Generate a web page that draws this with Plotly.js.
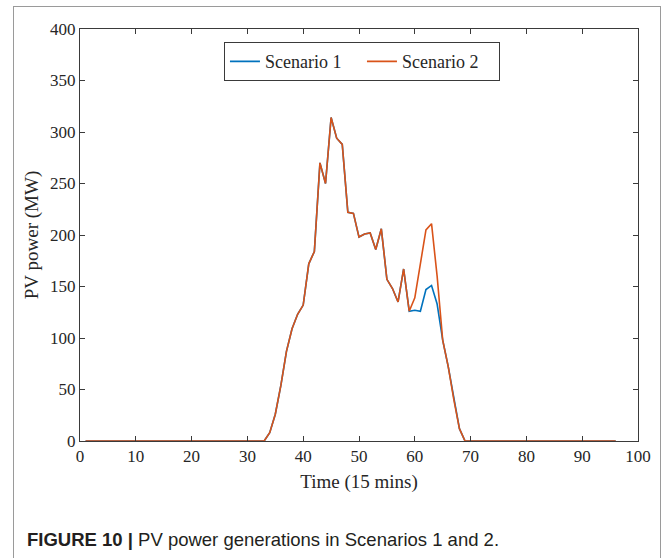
<!DOCTYPE html>
<html>
<head>
<meta charset="utf-8">
<script src="https://cdn.plot.ly/plotly-3.0.1.min.js"></script>
<style>
html,body{margin:0;padding:0;background:#fff;}
#frame{position:absolute;left:13px;top:6px;width:648px;height:560px;border:1px solid #9a9a9a;border-bottom:none;box-sizing:border-box;}
#chart{position:absolute;left:0;top:0;width:665px;height:558px;}
</style>
</head>
<body>
<div id="frame"></div>
<div id="chart"></div>
<script>
// Time steps (15 min)
const timeSteps = Array.from({length: 96}, (_, i) => i + 1);

// Scenario 2 PV power (MW), t = 1..96
const scenario2 = [
  0,0,0,0,0,0,0,0,0,0,
  0,0,0,0,0,0,0,0,0,0,
  0,0,0,0,0,0,0,0,0,0,
  0,0,0,8,26,54,87,109,123,132,
  172,184,270,250,314,294,288,222,221,198,
  201,202,186,206,157,148,135,167,126,139,
  172,205,211,160,98,72,40,12,0,0,
  0,0,0,0,0,0,0,0,0,0,
  0,0,0,0,0,0,0,0,0,0,
  0,0,0,0,0,0
];

// Scenario 1 PV power (MW), t = 1..96
const scenario1 = [
  0,0,0,0,0,0,0,0,0,0,
  0,0,0,0,0,0,0,0,0,0,
  0,0,0,0,0,0,0,0,0,0,
  0,0,0,8,26,54,87,109,123,132,
  172,184,270,250,314,294,288,222,221,198,
  201,202,186,206,157,148,135,167,126,127,
  126,147,151,133,98,72,40,12,0,0,
  0,0,0,0,0,0,0,0,0,0,
  0,0,0,0,0,0,0,0,0,0,
  0,0,0,0,0,0
];

const seriesNames = ['Scenario 1', 'Scenario 2'];
const xTicks = [0,10,20,30,40,50,60,70,80,90,100];
const yTicks = [0,50,100,150,200,250,300,350,400];

const serif = 'Liberation Serif, Times New Roman, serif';
const axisColor = '#3a3a3a';

const traces = [
  {x: timeSteps, y: scenario1, name: seriesNames[0], type: 'scatter', mode: 'lines',
   line: {color: '#0072BD', width: 1.6}},
  {x: timeSteps, y: scenario2, name: seriesNames[1], type: 'scatter', mode: 'lines',
   line: {color: '#D95319', width: 1.6}}
];

const axisCommon = {
  showgrid: false, zeroline: false, showline: true, linecolor: axisColor, linewidth: 1,
  mirror: 'ticks', ticks: 'inside', ticklen: 5, tickcolor: axisColor, tickwidth: 1,
  tickfont: {family: serif, size: 17, color: '#262626'}
};

const layout = {
  width: 665, height: 558,
  margin: {l: 80, r: 27, t: 29, b: 117},
  paper_bgcolor: 'rgba(0,0,0,0)', plot_bgcolor: '#fff',
  showlegend: true,
  legend: {
    orientation: 'h', x: 0.258, y: 0.968, xanchor: 'left', yanchor: 'top',
    bordercolor: axisColor, borderwidth: 1, bgcolor: '#fff',
    font: {family: serif, size: 18, color: '#262626'},
    entrywidth: 92, entrywidthmode: 'pixels',
    tracegroupgap: 0
  },
  xaxis: Object.assign({}, axisCommon, {
    range: [0, 100], tickvals: xTicks, ticktext: xTicks.map(String),
    title: {text: 'Time (15 mins)', font: {family: serif, size: 19, color: '#262626'}, standoff: 9}
  }),
  yaxis: Object.assign({}, axisCommon, {
    range: [0, 400], tickvals: yTicks, ticktext: yTicks.map(String),
    title: {text: 'PV power (MW)', font: {family: serif, size: 19, color: '#262626'}, standoff: 6}
  }),
  annotations: [{
    xref: 'paper', yref: 'paper', x: -0.099, y: -0.24, xanchor: 'left', yanchor: 'middle',
    showarrow: false, align: 'left',
    text: '<b>FIGURE 10 |</b> PV power generations in Scenarios 1 and 2.',
    font: {family: 'Liberation Sans, Arial, sans-serif', size: 18.5, color: '#231f20'}
  }]
};

Plotly.newPlot('chart', traces, layout, {displayModeBar: false, staticPlot: true});
</script>
</body>
</html>
